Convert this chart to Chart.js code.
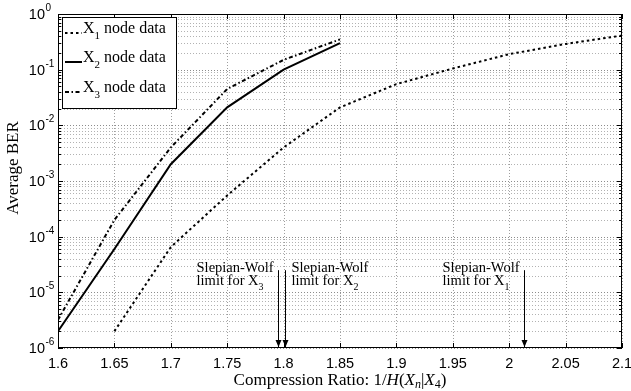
<!DOCTYPE html>
<html>
<head>
<meta charset="utf-8">
<script src="https://cdn.jsdelivr.net/npm/chart.js@4.4.1/dist/chart.umd.min.js"></script>
<style>
  html, body { margin:0; padding:0; background:#fff; }
  canvas { display:block; }
</style>
</head>
<body>
<canvas id="chartBer" width="631" height="391"></canvas>
<script>
// DATA
const x1Ratio = [1.65, 1.7, 1.75, 1.8, 1.85, 1.9, 1.95, 2.0, 2.05, 2.1];
const x1Ber   = [2e-6, 6.5e-5, 5.5e-4, 4e-3, 2.1e-2, 5.5e-2, 1.05e-1, 1.9e-1, 2.9e-1, 4.1e-1];
const x2Ratio = [1.6, 1.65, 1.7, 1.75, 1.8, 1.85];
const x2Ber   = [2e-6, 6e-5, 2e-3, 2.1e-2, 1e-1, 3e-1];
const x3Ratio = [1.6, 1.65, 1.7, 1.75, 1.8, 1.85];
const x3Ber   = [3.2e-6, 2e-4, 4e-3, 4.5e-2, 1.5e-1, 3.5e-1];

const xTicks     = [1.6, 1.65, 1.7, 1.75, 1.8, 1.85, 1.9, 1.95, 2.0, 2.05, 2.1];
const yExponents = [0, -1, -2, -3, -4, -5, -6];

// Slepian-Wolf limits: position, node index, which side the label sits on
const swLimit = [1.795, 1.801, 2.013];
const swNode  = ['3', '2', '1'];
const swSide  = ['left', 'right', 'left'];
const swTopBer = 2.5e-5;

const SERIF = '"Liberation Serif", "DejaVu Serif", serif';
const SANS  = '"Liberation Sans", Arial, sans-serif';

const pts = (xs, ys) => xs.map((x, i) => ({ x, y: ys[i] }));

// draw a run of text pieces (font / vertical shift) starting at x
function rich(ctx, parts, x, y, measureOnly) {
  let w = 0;
  parts.forEach(p => {
    ctx.font = p.f;
    if (!measureOnly) ctx.fillText(p.t, x + w, y + (p.dy || 0));
    w += ctx.measureText(p.t).width;
  });
  return w;
}

const decor = {
  id: 'decor',
  beforeDatasetsDraw(chart) {
    const { ctx, chartArea: a, scales: { x, y } } = chart;
    ctx.save();
    ctx.lineWidth = 1;
    ctx.setLineDash([1, 2]);
    // vertical grid
    ctx.strokeStyle = 'rgba(0,0,0,0.38)';
    xTicks.forEach(v => {
      const px = Math.round(x.getPixelForValue(v)) + 0.5;
      ctx.beginPath(); ctx.moveTo(px, a.top); ctx.lineTo(px, a.bottom); ctx.stroke();
    });
    // horizontal grid, major + minor decades
    yExponents.forEach(e => {
      for (let m = 1; m <= 9; m++) {
        const v = m * Math.pow(10, e);
        if (v > 1) break;
        const py = Math.round(y.getPixelForValue(v)) + 0.5;
        ctx.strokeStyle = m === 1 ? 'rgba(0,0,0,0.45)' : 'rgba(0,0,0,0.3)';
        ctx.beginPath(); ctx.moveTo(a.left, py); ctx.lineTo(a.right, py); ctx.stroke();
      }
    });
    ctx.restore();
  },
  afterDatasetsDraw(chart) {
    const { ctx, chartArea: a, scales: { x, y } } = chart;
    ctx.save();
    ctx.fillStyle = '#000';
    ctx.strokeStyle = '#000';
    ctx.lineWidth = 1;
    ctx.setLineDash([]);

    // frame
    ctx.strokeRect(a.left + 0.5, a.top + 0.5, a.right - a.left - 1, a.bottom - a.top - 1);

    // inward tick marks
    ctx.beginPath();
    xTicks.forEach(v => {
      const px = Math.round(x.getPixelForValue(v)) + 0.5;
      ctx.moveTo(px, a.bottom); ctx.lineTo(px, a.bottom - 5);
      ctx.moveTo(px, a.top);    ctx.lineTo(px, a.top + 5);
    });
    yExponents.forEach(e => {
      for (let m = 1; m <= 9; m++) {
        const v = m * Math.pow(10, e);
        if (v > 1) break;
        const py = Math.round(y.getPixelForValue(v)) + 0.5;
        const len = m === 1 ? 5 : 3;
        ctx.moveTo(a.left, py);  ctx.lineTo(a.left + len, py);
        ctx.moveTo(a.right, py); ctx.lineTo(a.right - len, py);
      }
    });
    ctx.stroke();

    // x tick labels
    ctx.font = '14.5px ' + SANS;
    ctx.textAlign = 'center';
    ctx.textBaseline = 'alphabetic';
    xTicks.forEach(v => ctx.fillText(String(+v.toFixed(2)), x.getPixelForValue(v), 368));

    // y tick labels 10^e
    yExponents.forEach(e => {
      const py = y.getPixelForValue(Math.pow(10, e));
      ctx.textAlign = 'right';
      ctx.font = '14.5px ' + SANS;
      ctx.fillText('10', 45, py + 5);
      ctx.textAlign = 'left';
      ctx.font = '10px ' + SANS;
      ctx.fillText(String(e), 45.5, py - 3);
    });

    // axis titles
    ctx.textAlign = 'left';
    const R = '17px ' + SERIF, I = 'italic 17px ' + SERIF;
    const rs = '12px ' + SERIF, is = 'italic 12px ' + SERIF;
    const title = [
      { t: 'Compression Ratio: 1/', f: R }, { t: 'H', f: I }, { t: '(', f: R },
      { t: 'X', f: I }, { t: 'n', f: is, dy: 3 }, { t: '|', f: R },
      { t: 'X', f: I }, { t: '4', f: rs, dy: 3 }, { t: ')', f: R }
    ];
    const tw = rich(ctx, title, 0, 0, true);
    rich(ctx, title, (a.left + a.right) / 2 - tw / 2, 385);

    ctx.save();
    ctx.translate(18, 168);
    ctx.rotate(-Math.PI / 2);
    ctx.textAlign = 'center';
    ctx.font = '17px ' + SERIF;
    ctx.fillText('Average BER', 0, 0);
    ctx.restore();

    // Slepian-Wolf arrows and labels
    ctx.textAlign = 'left';
    const aTop = y.getPixelForValue(swTopBer);
    swLimit.forEach((v, i) => {
      const px = Math.round(x.getPixelForValue(v)) + 0.5;
      ctx.beginPath();
      ctx.moveTo(px, aTop); ctx.lineTo(px, a.bottom - 1); ctx.stroke();
      ctx.beginPath();
      ctx.moveTo(px, a.bottom - 1); ctx.lineTo(px - 3, a.bottom - 8); ctx.lineTo(px + 3, a.bottom - 8);
      ctx.closePath(); ctx.fill();
      ctx.font = '14.5px ' + SERIF;
      const w1 = ctx.measureText('Slepian-Wolf').width;
      const lx = swSide[i] === 'left' ? px - 5 - w1 : px + 6;
      ctx.fillText('Slepian-Wolf', lx, 272);
      rich(ctx, [
        { t: 'limit for X', f: '14.5px ' + SERIF },
        { t: swNode[i], f: '10px ' + SERIF, dy: 5 }
      ], lx, 284.5);
    });

    // legend
    const lg = { l: 62, t: 17, r: 176, b: 108, rows: [33, 62, 92] };
    ctx.fillStyle = '#fff';
    ctx.fillRect(lg.l, lg.t, lg.r - lg.l, lg.b - lg.t);
    ctx.fillStyle = '#000';
    ctx.strokeRect(lg.l + 0.5, lg.t + 0.5, lg.r - lg.l, lg.b - lg.t);
    chart.data.datasets.forEach((ds, i) => {
      const ry = lg.rows[i];
      ctx.save();
      ctx.lineWidth = ds.borderWidth;
      ctx.setLineDash(ds.borderDash || []);
      ctx.beginPath(); ctx.moveTo(65, ry); ctx.lineTo(82, ry); ctx.stroke();
      ctx.restore();
      rich(ctx, [
        { t: 'X', f: '16px ' + SERIF },
        { t: String(i + 1), f: '11px ' + SERIF, dy: 6 },
        { t: ' node data', f: '16px ' + SERIF }
      ], 83, ry);
    });

    ctx.restore();
  }
};

new Chart(document.getElementById('chartBer').getContext('2d'), {
  type: 'line',
  data: {
    datasets: [
      { label: 'X1 node data', data: pts(x1Ratio, x1Ber), borderColor: '#000', borderWidth: 2, borderDash: [2.5, 3] },
      { label: 'X2 node data', data: pts(x2Ratio, x2Ber), borderColor: '#000', borderWidth: 2 },
      { label: 'X3 node data', data: pts(x3Ratio, x3Ber), borderColor: '#000', borderWidth: 2, borderDash: [4, 2.5, 1.5, 2.5] }
    ]
  },
  options: {
    responsive: false,
    animation: false,
    devicePixelRatio: 1,
    layout: { padding: { left: 58, top: 14, right: 9, bottom: 43 } },
    elements: { point: { radius: 0 }, line: { tension: 0, fill: false } },
    plugins: { legend: { display: false }, tooltip: { enabled: false } },
    scales: {
      x: { type: 'linear', min: 1.6, max: 2.1, display: false },
      y: { type: 'logarithmic', min: 1e-6, max: 1, display: false }
    }
  },
  plugins: [decor]
});
</script>
</body>
</html>
